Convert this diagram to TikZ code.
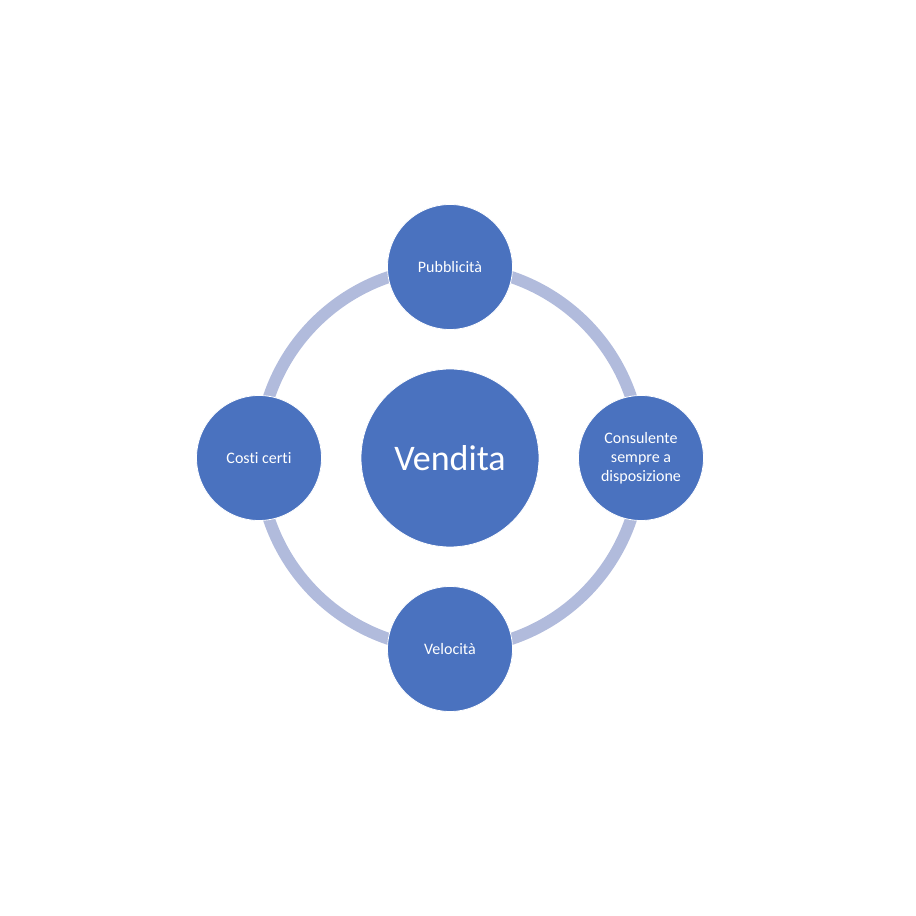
\documentclass[tikz,border=0pt]{standalone}
\usepackage{fontspec}
\setmainfont{Carlito}[Ligatures=NoCommon]
\usepackage{xcolor}
\definecolor{bubble}{HTML}{4A72BF}
\definecolor{ringblue}{HTML}{B1BBDC}

\tikzset{
  hub/.style={circle, fill=bubble, draw=white, line width=0.8pt, minimum size=178pt, inner sep=0pt, text=white, font=\fontsize{36}{42}\selectfont},
  sat/.style={circle, fill=bubble, draw=white, line width=0.8pt, minimum size=125pt, inner sep=0pt, text=white, align=center, font=\fontsize{16}{19}\selectfont}
}

\begin{document}
\begin{tikzpicture}[x=1pt,y=1pt]
\useasboundingbox (0,0) rectangle (916,916);

\coordinate (mid) at (450,458);
\draw[ringblue, line width=12pt] (mid) circle (191);

\node[hub] (vendita) at (mid) {Vendita};

\node[sat] (pubblicita) at (450,649) {Pubblicità};
\node[sat] (consulente) at (641,458) {Consulente\\sempre a\\disposizione};
\node[sat] (velocita) at (450,267) {Velocità};
\node[sat] (costi) at (259,458) {Costi certi};
\end{tikzpicture}
\end{document}
